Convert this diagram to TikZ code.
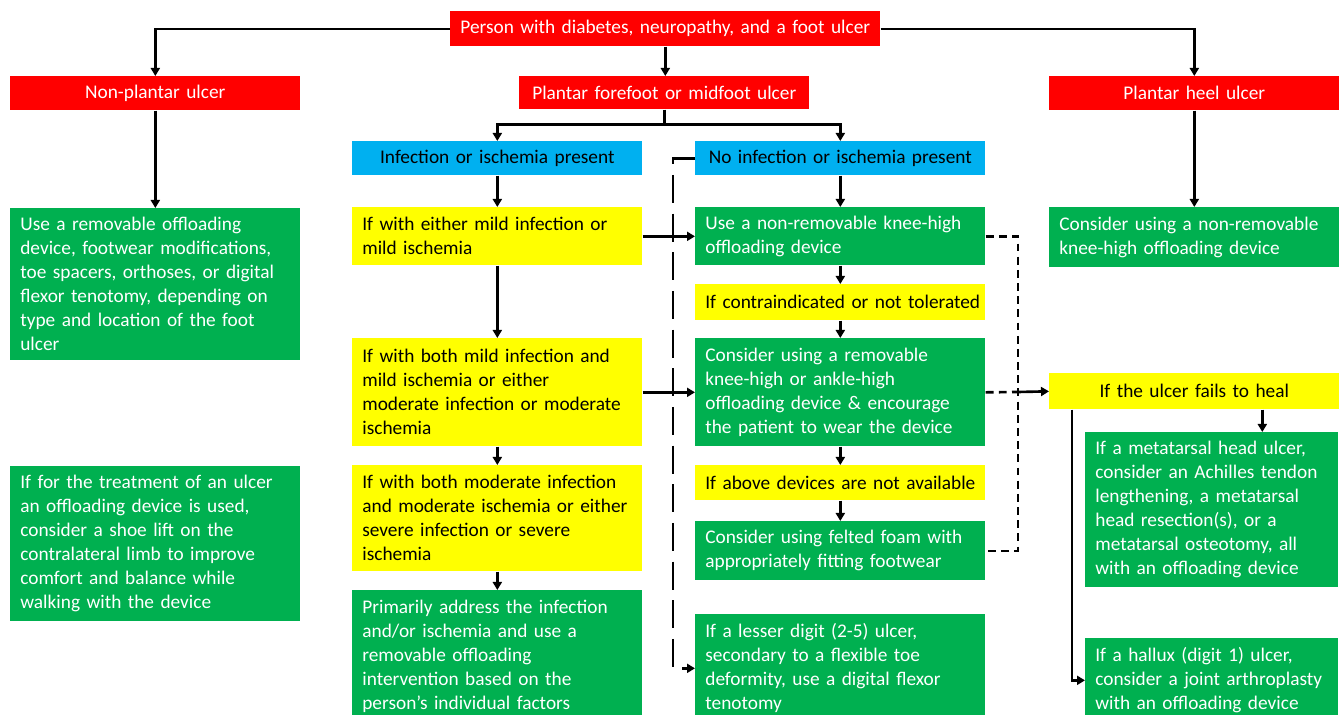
\documentclass[tikz,border=0pt]{standalone}
\usepackage{fontspec}
\setmainfont{Carlito}
\usepackage{xcolor}
\usepackage{tikz}
\usetikzlibrary{arrows.meta,positioning,calc}
\definecolor{ulcred}{HTML}{FF0000}
\definecolor{ulcblue}{HTML}{00B0F0}
\definecolor{ulcyellow}{HTML}{FFFF00}
\definecolor{ulcgreen}{HTML}{00B050}
\newcommand{\boxfont}{\fontsize{11}{13.66}\selectfont}

\begin{document}
\begin{tikzpicture}[x=0.02cm, y=-0.02cm, every node/.style={font=\boxfont},
  blk/.style={anchor=north west, inner xsep=0.2cm, inner ysep=0pt, text width=5.4cm, align=left},
  hdr/.style={blk, fill=ulcred, text=white, align=center},
  cond/.style={blk, fill=ulcblue, align=center},
  ask/.style={blk, fill=ulcyellow},
  act/.style={blk, fill=ulcgreen, text=white},
  arr/.style={-{Triangle[length=1.6mm,width=1.8mm]}, line width=1.5pt},
  lnk/.style={line width=1.5pt},
  dsh/.style={line width=1.5pt, dash pattern=on 4.5pt off 3pt},
  ldsh/.style={line width=1.5pt, dash pattern=on 16pt off 6pt}]
\clip (0,0) rectangle (1340,715);
\fill[white] (0,0) rectangle (1340,715);
% top level
\node[hdr, text width=8.2cm, minimum height=0.7cm] (top) at (450,11) {Person with diabetes, neuropathy, and a foot ulcer};
\node[hdr, minimum height=0.68cm] (np) at (10,76) {Non-plantar ulcer};
\node[hdr, minimum height=0.66cm] (pf) at (519,76) {Plantar forefoot or midfoot ulcer};
\node[hdr, minimum height=0.68cm] (heel) at (1049,76) {Plantar heel ulcer};
\node[cond, minimum height=0.68cm] (inf) at (352,141) {Infection or ischemia present};
\node[cond, minimum height=0.68cm] (noinf) at (695,141) {No infection or ischemia present};
% left column
\node[act, minimum height=3.04cm] (npact) at (10,208) {Use a removable offloading\\device, footwear modifications,\\toe spacers, orthoses, or digital\\flexor tenotomy, depending on\\type and location of the foot\\ulcer};
\node[act, minimum height=3.1cm] (lift) at (10,466) {If for the treatment of an ulcer\\an offloading device is used,\\consider a shoe lift on the\\contralateral limb to improve\\comfort and balance while\\walking with the device};
% infection / ischemia column
\node[ask, minimum height=1.16cm] (mild) at (352,207) {If with either mild infection or\\mild ischemia};
\node[ask, minimum height=2.16cm] (modr) at (352,338) {If with both mild infection and\\mild ischemia or either\\moderate infection or moderate\\ischemia};
\node[ask, minimum height=2.12cm] (sevr) at (352,465) {If with both moderate infection\\and moderate ischemia or either\\severe infection or severe\\ischemia};
\node[act, minimum height=2.64cm] (prim) at (352,590) {Primarily address the infection\\and/or ischemia and use a\\removable offloading\\intervention based on the\\person's individual factors};
% no infection column
\node[act, minimum height=1.16cm] (nonrem) at (695,207) {Use a non-removable knee-high\\offloading device};
\node[ask, minimum height=0.72cm] (contra) at (695,284) {\mbox{If contraindicated or not tolerated}};
\node[act, minimum height=2.16cm] (remov) at (695,338) {Consider using a removable\\knee-high or ankle-high\\offloading device \& encourage\\the patient to wear the device};
\node[ask, minimum height=0.7cm] (avail) at (695,465) {\mbox{If above devices are not available}};
\node[act, minimum height=1.18cm] (foam) at (695,521) {Consider using felted foam with\\appropriately fitting footwear};
\node[act, minimum height=2.16cm] (digit) at (695,614) {If a lesser digit (2-5) ulcer,\\secondary to a flexible toe\\deformity, use a digital flexor\\tenotomy};
% heel and surgery column
\node[act, minimum height=1.2cm] (heelact) at (1049,207) {Consider using a non-removable\\knee-high offloading device};
\node[ask, align=center, minimum height=0.72cm] (fail) at (1049,373) {If the ulcer fails to heal};
\node[act, text width=4.66cm, minimum height=3.1cm] (meta) at (1085,432) {If a metatarsal head ulcer,\\consider an Achilles tendon\\lengthening, a metatarsal\\head resection(s), or a\\metatarsal osteotomy, all\\with an offloading device};
\node[act, text width=4.66cm, minimum height=1.68cm] (hallux) at (1085,638) {If a hallux (digit 1) ulcer,\\consider a joint arthroplasty\\with an offloading device};
% connectors
\draw[arr] (top.west) -| (np.north);
\draw[arr] (top.east) -| (heel.north);
\draw[arr] (top.south) -- (top.south |- pf.north);
\coordinate (sp) at ($(pf.south)+(0,15)$);
\draw[lnk] (pf.south) -- (sp);
\draw[arr] (sp) -| (inf.north);
\draw[arr] (sp) -| (noinf.north);
\draw[arr] (np) -- (npact);
\draw[arr] (heel) -- (heelact);
\draw[arr] (inf) -- (mild);
\draw[arr] (mild) -- (modr);
\draw[arr] (modr) -- (sevr);
\draw[arr] (sevr) -- (prim);
\draw[arr] (mild.east) -- (nonrem.west);
\draw[arr] (modr.east) -- (remov.west);
\draw[arr] (noinf) -- (nonrem);
\draw[arr] (nonrem) -- (contra);
\draw[arr] (contra) -- (remov);
\draw[arr] (remov) -- (avail);
\draw[arr] (avail) -- (foam);
\draw[ldsh] (noinf.west) -- ++(-22,0) coordinate (dl) |- ($(digit.west)+(-8,0)$);
\draw[arr] ($(digit.west)+(-10,0)$) -- (digit.west);
\coordinate (jn) at (1018,392);
\draw[dsh] (nonrem.east) -| (jn) |- (foam.east);
\draw[dsh] (remov.east) -- (jn);
\draw[arr] (jn) -- (fail.west);
\coordinate (fs) at ($(fail.south)+(68,0)$);
\draw[arr] (fs) -- (fs |- meta.north);
\draw[arr] ($(fail.south west)+(23,0)$) |- (hallux.west);
\end{tikzpicture}
\end{document}
